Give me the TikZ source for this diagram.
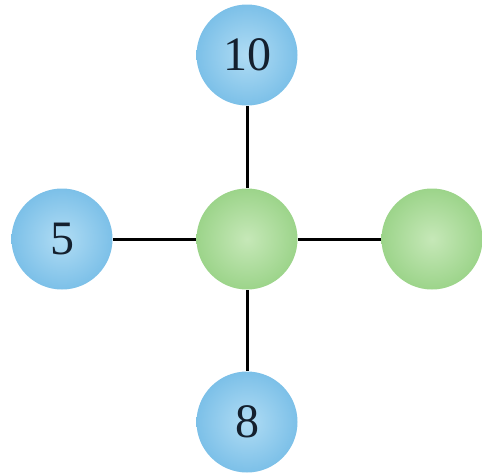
\documentclass[tikz,border=0pt]{standalone}
\usepackage{fontspec}
\setmainfont{Liberation Serif}
\usetikzlibrary{positioning}
\definecolor{atomblue}{RGB}{124,192,232}
\definecolor{atomblueL}{RGB}{176,220,244}
\definecolor{atomgreen}{RGB}{156,212,138}
\definecolor{atomgreenL}{RGB}{198,232,184}
\definecolor{digit}{RGB}{20,32,46}

\begin{document}
\begin{tikzpicture}
		[x=0.5pt, y=-0.5pt,
		 atom/.style = {circle, minimum size=50.5pt, inner sep=0pt, font=\fontsize{24}{26}\selectfont, text=digit},
		 blueatom/.style = {atom, inner color=atomblueL, outer color=atomblue},
		 greenatom/.style = {atom, inner color=atomgreenL, outer color=atomgreen},
		 bond/.style = {line width=1.5pt, black}]
		\useasboundingbox (0,0) rectangle (483,473);
		\node[blueatom] (top) at (247,55) {10};
		\node[blueatom] (left) at (62,239) {5};
		\node[greenatom] (mid) at (247,239) {};
		\node[greenatom] (right) at (432,239) {};
		\node[blueatom] (bottom) at (247,422) {8};

		\draw[bond] (top) -- (mid);
		\draw[bond] (left) -- (mid);
		\draw[bond] (mid) -- (right);
		\draw[bond] (mid) -- (bottom);
	\end{tikzpicture}
\end{document}
